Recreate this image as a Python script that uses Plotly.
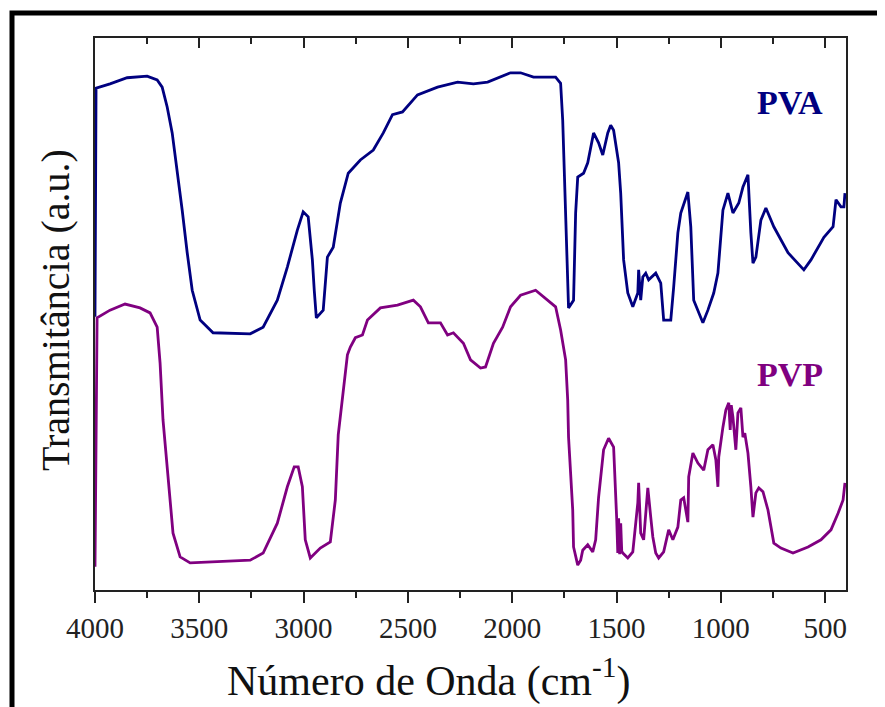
import plotly.graph_objects as go

# Wavenumber (cm-1) and transmittance (a.u., 0-100 of axis height)
pva_wn = [4000, 3995, 3928, 3846, 3750, 3702, 3678, 3654, 3630, 3606, 3582, 3558, 3534, 3496, 3434,
          3256, 3194, 3126, 3078, 3030, 3002, 2978, 2958, 2949, 2939, 2906, 2886, 2858, 2824, 2786,
          2728, 2666, 2618, 2574, 2526, 2454, 2358, 2262, 2186, 2118, 2008, 1960, 1898, 1792, 1768,
          1758, 1744, 1734, 1730, 1706, 1696, 1686, 1658, 1638, 1610, 1586, 1566, 1542, 1528, 1514,
          1490, 1480, 1466, 1446, 1422, 1398, 1394, 1384, 1374, 1360, 1346, 1312, 1288, 1274, 1240,
          1226, 1206, 1192, 1158, 1144, 1130, 1086, 1062, 1034, 1014, 990, 966, 942, 914, 894,
          870, 856, 846, 832, 808, 784, 746, 678, 602, 568, 506, 462, 448, 424, 410, 405]
pva_t = [49.5, 90.9, 91.7, 92.8, 93.1, 92.4, 91.1, 87.5, 82.8, 76.1, 68.8, 61.1, 54.3, 48.9, 46.6,
         46.4, 47.6, 52.5, 58.5, 65.2, 68.5, 67.6, 59.8, 54.3, 49.3, 50.7, 60.3, 62.1, 70.1, 75.5,
         77.9, 79.7, 82.8, 86.1, 86.6, 89.7, 91.1, 92.0, 91.7, 92.0, 93.7, 93.7, 92.9, 92.9, 91.8,
         85.1, 67.0, 52.5, 51.1, 52.5, 68.3, 74.8, 75.5, 77.4, 82.8, 81.0, 78.8, 82.8, 84.2, 83.3,
         77.4, 71.9, 59.8, 53.8, 51.3, 53.8, 58.0, 52.5, 56.7, 57.4, 56.2, 57.4, 55.6, 48.9, 48.9,
         54.9, 64.7, 68.3, 72.1, 65.8, 52.5, 48.4, 50.7, 53.8, 57.4, 68.8, 71.9, 68.3, 70.1, 73.0,
         75.2, 64.7, 59.2, 60.3, 67.0, 69.2, 65.8, 61.1, 58.0, 59.8, 63.9, 65.8, 70.7, 69.4, 69.4, 71.9]

pvp_wn = [4000, 3990, 3928, 3856, 3784, 3736, 3702, 3688, 3674, 3650, 3626, 3592, 3544, 3256, 3194,
          3126, 3078, 3045, 3026, 3006, 2992, 2968, 2920, 2872, 2848, 2834, 2814, 2790, 2776, 2752,
          2718, 2694, 2632, 2550, 2474, 2440, 2402, 2344, 2310, 2282, 2234, 2200, 2152, 2128, 2090,
          2046, 2008, 1960, 1888, 1830, 1792, 1768, 1744, 1734, 1730, 1710, 1706, 1686, 1672, 1662,
          1638, 1614, 1600, 1586, 1562, 1538, 1514, 1499, 1494, 1490, 1485, 1480, 1475, 1470, 1446,
          1422, 1398, 1394, 1384, 1370, 1350, 1336, 1326, 1312, 1298, 1274, 1250, 1230, 1206, 1192,
          1178, 1158, 1154, 1134, 1110, 1082, 1062, 1038, 1024, 1014, 1010, 990, 976, 962, 955,
          950, 942, 928, 918, 904, 894, 885, 870, 856, 846, 832, 818, 798, 774, 746, 712, 654,
          582, 520, 472, 438, 414, 405]
pvp_t = [4.2, 49.3, 50.7, 51.8, 51.1, 50.2, 47.6, 41.1, 30.8, 19.9, 10.3, 6.0, 4.9, 5.4, 6.7,
         12.1, 18.7, 22.3, 22.3, 18.7, 9.1, 5.8, 7.6, 8.7, 16.3, 28.1, 35.0, 42.6, 44.0, 45.7,
         46.2, 48.9, 51.1, 51.6, 52.5, 51.3, 48.4, 48.4, 46.2, 46.6, 44.7, 41.7, 40.2, 40.4, 44.7,
         47.6, 51.3, 53.4, 54.3, 52.5, 51.3, 47.1, 41.7, 34.4, 27.7, 14.5, 7.8, 4.5, 5.4, 7.2,
         8.2, 6.9, 9.1, 16.8, 25.4, 27.5, 25.9, 12.7, 6.7, 13.0, 6.5, 12.1, 7.0, 6.7, 5.8,
         6.9, 15.8, 19.4, 10.3, 9.1, 18.5, 13.2, 9.6, 6.7, 5.8, 6.9, 10.9, 9.1, 11.4, 16.3,
         16.7, 12.3, 20.5, 24.8, 23.0, 21.7, 25.4, 26.3, 23.6, 18.7, 24.1, 29.5, 32.6, 33.9, 29.0,
         33.5, 31.3, 25.4, 32.1, 33.0, 27.7, 28.4, 24.8, 18.7, 13.2, 17.6, 18.5, 17.8, 14.5, 8.5, 7.6, 6.7,
         7.8, 9.1, 10.9, 13.9, 16.3, 19.4]

x_ticks = [4000, 3500, 3000, 2500, 2000, 1500, 1000, 500]
x_range = [4000, 400]
y_range = [0, 100]

SERIF = "Liberation Serif, Times New Roman, serif"

fig = go.Figure()
fig.add_trace(go.Scatter(x=pva_wn, y=pva_t, mode="lines", name="PVA",
                         line=dict(color="#000080", width=2.8), showlegend=False))
fig.add_trace(go.Scatter(x=pvp_wn, y=pvp_t, mode="lines", name="PVP",
                         line=dict(color="#800080", width=2.8), showlegend=False))
fig.add_trace(go.Scatter(x=[4000], y=[None], xaxis="x2", showlegend=False, hoverinfo="skip"))

# page body has an 8px margin: figure is sized / offset so the plot area lands at x 95-846, y 38-590
fig.update_layout(
    width=877, height=699,
    margin=dict(l=87, r=39, t=30, b=117),
    paper_bgcolor="white", plot_bgcolor="white",
    xaxis=dict(range=x_range, tickvals=x_ticks, ticktext=[str(v) for v in x_ticks],
               ticks="outside", ticklen=11, tickwidth=1.5, tickcolor="#222",
               minor=dict(ticks="outside", ticklen=6, tickwidth=1.5, tickcolor="#222", dtick=250, tick0=250),
               showline=True, linecolor="#222", linewidth=1.5, mirror=True,
               showgrid=False, zeroline=False,
               tickfont=dict(family=SERIF, size=29, color="#222")),
    xaxis2=dict(range=x_range, overlaying="x", side="top", tickvals=x_ticks,
                ticks="inside", ticklen=10, tickwidth=1.5, tickcolor="#222",
                minor=dict(ticks="inside", ticklen=6, tickwidth=1.5, tickcolor="#222", dtick=250, tick0=250),
                showticklabels=False, showgrid=False, zeroline=False, showline=False),
    yaxis=dict(range=y_range, showticklabels=False, ticks="", showgrid=False, zeroline=False,
               showline=True, linecolor="#222", linewidth=1.5, mirror=True),
    annotations=[
        dict(text="Número de Onda (cm<sup>-1</sup>)", xref="paper", yref="paper",
             x=(429 - 95) / 751, y=-(678 - 590) / 552, xanchor="center", yanchor="middle",
             showarrow=False, font=dict(family=SERIF, size=42, color="#111")),
        dict(text="Transmitância (a.u.)", xref="paper", yref="paper",
             x=-(95 - 55) / 751, y=(590 - 310) / 552, xanchor="center", yanchor="middle",
             textangle=-90, showarrow=False, font=dict(family=SERIF, size=40, color="#111")),
        dict(text="<b>PVA</b>", xref="paper", yref="paper",
             x=(790 - 95) / 751, y=(590 - 103) / 552, xanchor="center", yanchor="middle",
             showarrow=False, font=dict(family=SERIF, size=34, color="#000080")),
        dict(text="<b>PVP</b>", xref="paper", yref="paper",
             x=(790 - 95) / 751, y=(590 - 375) / 552, xanchor="center", yanchor="middle",
             showarrow=False, font=dict(family=SERIF, size=34, color="#800080")),
    ],
    shapes=[
        dict(type="rect", xref="paper", yref="paper",
             x0=-(95 - 12) / 751, x1=1.2, y0=-0.4, y1=(590 - 13) / 552,
             line=dict(color="black", width=5), fillcolor="rgba(0,0,0,0)", layer="below"),
    ],
)

fig.write_html("out.html")
